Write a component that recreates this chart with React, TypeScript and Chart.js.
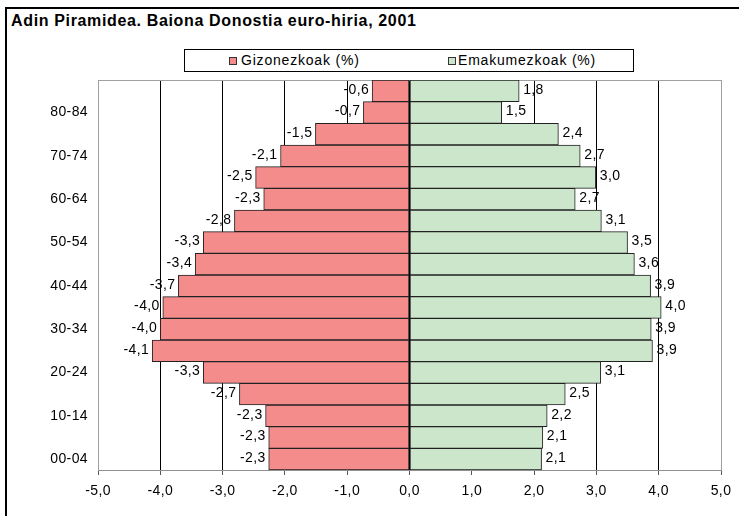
import React, { useEffect, useRef } from 'react';
import { Chart, registerables } from 'chart.js';

Chart.register(...registerables);

const ageGroups = ['00-04', '05-09', '10-14', '15-19', '20-24', '25-29', '30-34', '35-39', '40-44', '45-49', '50-54', '55-59', '60-64', '65-69', '70-74', '75-79', '80-84', '85+'];
const menValues = [-2.26, -2.26, -2.31, -2.73, -3.31, -4.13, -4.0, -3.96, -3.71, -3.44, -3.31, -2.81, -2.34, -2.47, -2.07, -1.51, -0.74, -0.6];
const womenValues = [2.12, 2.14, 2.21, 2.5, 3.07, 3.9, 3.88, 4.04, 3.87, 3.61, 3.5, 3.08, 2.66, 2.99, 2.74, 2.39, 1.48, 1.76];
const seriesNames = ['Gizonezkoak (%)', 'Emakumezkoak (%)'];
const titleText = 'Adin Piramidea. Baiona Donostia euro-hiria, 2001';
const xMin = -5;
const xMax = 5;

const MEN_COLOR = '#F48C8C';
const WOMEN_COLOR = '#CBE6CB';
const FONT = 'Arial, "Liberation Sans", sans-serif';

const fmt = (v: number) => v.toFixed(1).replace('.', ',');

const labelPlugin = {
  id: 'valueLabels',
  beforeDraw(chart: any) {
    const ctx = chart.ctx;
    try { (ctx as any).letterSpacing = '0.4px'; } catch (e) { /* ignore */ }
    ctx.save();
    ctx.font = `14px ${FONT}`;
    ctx.fillStyle = '#000';
    ctx.textBaseline = 'middle';
    chart.data.datasets.forEach((ds: any, di: number) => {
      const meta = chart.getDatasetMeta(di);
      meta.data.forEach((el: any, i: number) => {
        const v = ds.data[i];
        const t = fmt(v);
        if (v < 0) {
          ctx.textAlign = 'right';
          ctx.fillText(t, el.x - 3, el.y - 1);
        } else {
          ctx.textAlign = 'left';
          ctx.fillText(t, el.x + 4, el.y - 1);
        }
      });
    });
    ctx.restore();
  },
  beforeDatasetsDraw(chart: any) {
    const { ctx, chartArea } = chart;
    ctx.save();
    ctx.strokeStyle = '#A0A0A0';
    ctx.lineWidth = 1;
    ctx.beginPath();
    ctx.moveTo(chartArea.left, chartArea.top + 0.5);
    ctx.lineTo(chartArea.right, chartArea.top + 0.5);
    ctx.stroke();
    ctx.restore();
  },
};

function PyramidChart() {
  const ref = useRef<HTMLCanvasElement | null>(null);
  useEffect(() => {
    if (!ref.current) return;
    const chart = new Chart(ref.current, {
      type: 'bar',
      data: {
        labels: ageGroups,
        datasets: [
          {
            label: seriesNames[0],
            data: menValues,
            backgroundColor: MEN_COLOR,
            borderColor: '#222',
            borderWidth: 1,
            borderSkipped: false,
            barPercentage: 1,
            categoryPercentage: 1,
          },
          {
            label: seriesNames[1],
            data: womenValues,
            backgroundColor: WOMEN_COLOR,
            borderColor: '#222',
            borderWidth: 1,
            borderSkipped: false,
            barPercentage: 1,
            categoryPercentage: 1,
          },
        ],
      },
      options: {
        indexAxis: 'y',
        responsive: false,
        animation: false,
        devicePixelRatio: 1,
        layout: { padding: { left: 0, top: 80, right: 18, bottom: 0 } },
        plugins: {
          legend: { display: false },
          title: { display: false },
          tooltip: { enabled: false },
        },
        scales: {
          x: {
            type: 'linear',
            stacked: true,
            min: xMin,
            max: xMax,
            afterFit: (s: any) => { s.height = 46; },
            ticks: {
              stepSize: 1,
              color: '#000',
              font: { family: FONT, size: 14 },
              padding: 8,
              maxRotation: 0,
              callback: (v: any) => fmt(Number(v)),
            },
            grid: {
              color: (c: any) => (c.tick && Math.abs(c.tick.value) === 5 ? '#A0A0A0' : '#000'),
              lineWidth: 1,
              drawTicks: true,
              tickLength: 5,
              tickColor: '#555',
            },
            border: { display: true, color: '#909090', width: 1 },
          },
          y: {
            type: 'category',
            stacked: true,
            reverse: true,
            afterFit: (s: any) => { s.width = 98; },
            ticks: {
              autoSkip: false,
              color: '#000',
              font: { family: FONT, size: 14 },
              padding: 10,
              callback: (_v: any, i: number) => (i % 2 === 0 ? ageGroups[i] : ''),
            },
            grid: { display: false, drawTicks: false },
            border: { display: true, color: '#A0A0A0', width: 1 },
          },
        },
      },
      plugins: [labelPlugin],
    });
    return () => chart.destroy();
  }, []);
  return <canvas ref={ref} width={739} height={516} style={{ position: 'absolute', left: 0, top: 0, width: 739, height: 516 }} />;
}

export default function App() {
  return (
    <div style={{ position: 'fixed', left: 0, top: 0, width: 739, height: 516, overflow: 'hidden', background: '#fff', fontFamily: FONT }}>
      <div style={{ position: 'absolute', left: 5, top: 7, width: 800, height: 600, borderLeft: '2px solid #000', borderTop: '2px solid #000' }} />
      <div style={{ position: 'absolute', left: 11, top: 12, fontWeight: 'bold', fontSize: 16, lineHeight: '18px', letterSpacing: '0.65px', color: '#000', whiteSpace: 'nowrap' }}>{titleText}</div>
      <div style={{ position: 'absolute', left: 184, top: 49, width: 448, height: 21, border: '1px solid #000', boxSizing: 'content-box', background: '#fff' }}>
        <div style={{ position: 'absolute', left: 44, top: 7, width: 6, height: 6, background: MEN_COLOR, border: '1px solid #333' }} />
        <div style={{ position: 'absolute', left: 56, top: 2, fontSize: 14, lineHeight: '17px', letterSpacing: '0.8px', whiteSpace: 'nowrap' }}>{seriesNames[0]}</div>
        <div style={{ position: 'absolute', left: 263, top: 7, width: 6, height: 6, background: WOMEN_COLOR, border: '1px solid #333' }} />
        <div style={{ position: 'absolute', left: 273, top: 2, fontSize: 14, lineHeight: '17px', letterSpacing: '0.8px', whiteSpace: 'nowrap' }}>{seriesNames[1]}</div>
      </div>
      <PyramidChart />
    </div>
  );
}
